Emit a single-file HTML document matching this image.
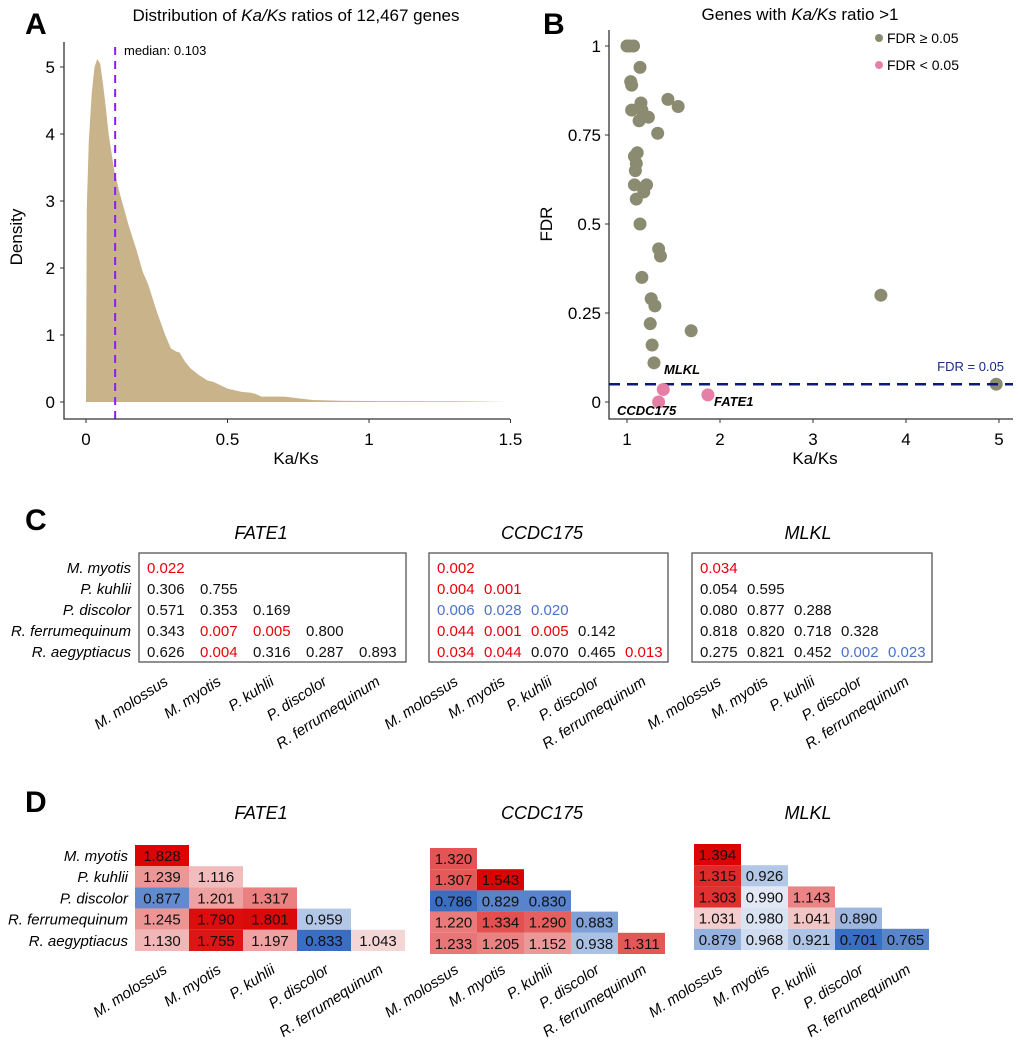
<!DOCTYPE html>
<html><head><meta charset="utf-8"><style>
body{margin:0;background:#fff;}
svg{display:block;font-family:"Liberation Sans",Arial,sans-serif;}
</style></head><body>
<svg id="fig" width="1020" height="1051" viewBox="0 0 1020 1051" xmlns="http://www.w3.org/2000/svg">
<g id="pA"></g>
<g id="pB"></g>
<g id="pC"></g>
<g id="pD"></g>
</svg>
<script>
// ---- Panel A data ----
const densX = [0,0.003,0.01,0.02,0.03,0.04,0.05,0.06,0.07,0.08,0.1,0.12,0.15,0.18,0.2,0.22,0.25,0.28,0.3,0.32,0.33,0.35,0.37,0.4,0.43,0.45,0.5,0.55,0.58,0.6,0.62,0.7,0.72,0.8,0.9,1.0,1.2,1.3,1.5];
const densY = [0,2.9,3.9,4.6,5.0,5.12,5.05,4.75,4.4,4.0,3.45,3.1,2.65,2.25,1.95,1.75,1.35,1.0,0.8,0.75,0.74,0.6,0.5,0.4,0.32,0.3,0.2,0.15,0.14,0.12,0.08,0.08,0.07,0.03,0.02,0.015,0.01,0.01,0];
const aXTicks = [0,0.5,1,1.5];
const aYTicks = [0,1,2,3,4,5];
const medianVal = 0.103;
// ---- Panel B data ----
const kaks = [1.0,1.03,1.07,1.14,1.04,1.05,1.05,1.15,1.16,1.23,1.13,1.44,1.55,1.33,1.11,1.08,1.1,1.09,1.08,1.21,1.18,1.1,1.14,1.34,1.36,1.16,1.26,1.3,1.25,1.69,1.27,1.29,3.73,4.97];
const fdr  = [1.0,1.0,1.0,0.94,0.90,0.89,0.82,0.84,0.82,0.80,0.79,0.85,0.83,0.755,0.70,0.69,0.67,0.65,0.61,0.61,0.59,0.57,0.50,0.43,0.41,0.35,0.29,0.27,0.22,0.20,0.16,0.11,0.30,0.05];
const sigNames = ["MLKL","CCDC175","FATE1"];
const sigKaks = [1.39,1.34,1.87];
const sigFdr = [0.035,0.0,0.02];
const bXTicks = [1,2,3,4,5];
const bYTicks = [0,0.25,0.5,0.75,1];
const bYTickLabels = ["0","0.25","0.5","0.75","1"];
const fdrThresh = 0.05;
// ---- Panels C/D data ----
const rowSpecies = ["M. myotis","P. kuhlii","P. discolor","R. ferrumequinum","R. aegyptiacus"];
const colSpecies = ["M. molossus","M. myotis","P. kuhlii","P. discolor","R. ferrumequinum"];
const genes = ["FATE1","CCDC175","MLKL"];
const pFATE1 = [["0.022"],["0.306","0.755"],["0.571","0.353","0.169"],["0.343","0.007","0.005","0.800"],["0.626","0.004","0.316","0.287","0.893"]];
const sFATE1 = [["r"],["k","k"],["k","k","k"],["k","r","r","k"],["k","r","k","k","k"]];
const pCCDC175 = [["0.002"],["0.004","0.001"],["0.006","0.028","0.020"],["0.044","0.001","0.005","0.142"],["0.034","0.044","0.070","0.465","0.013"]];
const sCCDC175 = [["r"],["r","r"],["b","b","b"],["r","r","r","k"],["r","r","k","k","r"]];
const pMLKL = [["0.034"],["0.054","0.595"],["0.080","0.877","0.288"],["0.818","0.820","0.718","0.328"],["0.275","0.821","0.452","0.002","0.023"]];
const sMLKL = [["r"],["k","k"],["k","k","k"],["k","k","k","k"],["k","k","k","b","b"]];
const rFATE1 = [[1.828],[1.239,1.116],[0.877,1.201,1.317],[1.245,1.790,1.801,0.959],[1.130,1.755,1.197,0.833,1.043]];
const rCCDC175 = [[1.320],[1.307,1.543],[0.786,0.829,0.830],[1.220,1.334,1.290,0.883],[1.233,1.205,1.152,0.938,1.311]];
const rMLKL = [[1.394],[1.315,0.926],[1.303,0.990,1.143],[1.031,0.980,1.041,0.890],[0.879,0.968,0.921,0.701,0.765]];

const NS="http://www.w3.org/2000/svg";
function mk(parent,tag,attrs,text){const e=document.createElementNS(NS,tag);for(const k in attrs)e.setAttribute(k,attrs[k]);if(text!==undefined)e.textContent=text;parent.appendChild(e);return e;}

// ===== Panel A =====
(function(){
const g=document.getElementById('pA');
const xs=v=>86+283*v, ys=v=>402-67*v;
let t=mk(g,'text',{x:25,y:34,'font-size':30,'font-weight':'bold'},'A');


t=mk(g,'text',{x:296,y:21,'font-size':17,'text-anchor':'middle'});


t.innerHTML='Distribution of <tspan font-style="italic">Ka/Ks</tspan> ratios of 12,467 genes';
let d='M'+xs(densX[0])+','+ys(0);
for(let i=0;i<densX.length;i++) d+=' L'+xs(densX[i]).toFixed(1)+','+ys(densY[i]).toFixed(1);
d+=' L'+xs(densX[densX.length-1])+','+ys(0)+' Z';
let p=mk(g,'path',{d:d,fill:'#c8b38b'});


let l=mk(g,'line',{x1:xs(medianVal),x2:xs(medianVal),y1:47,y2:419,stroke:'#8a1ff0','stroke-width':2,'stroke-dasharray':'8,6'});


t=mk(g,'text',{x:124,y:55,'font-size':13},'median: 0.103');


let ax=mk(g,'path',{d:'M64,42 L64,419 L510,419',fill:'none',stroke:'#333','stroke-width':1.3});


aXTicks.forEach(v=>{mk(g,'line',{x1:xs(v),x2:xs(v),y1:419,y2:423,stroke:'#333'});
 const tt=mk(g,'text',{x:xs(v),y:445,'font-size':17,'text-anchor':'middle'},String(v));
 
 });
aYTicks.forEach(v=>{mk(g,'line',{x1:60,x2:64,y1:ys(v),y2:ys(v),stroke:'#333'});
 const tt=mk(g,'text',{x:55,y:ys(v)+6,'font-size':17,'text-anchor':'end'},String(v));
 
 });
t=mk(g,'text',{x:296,y:464,'font-size':17,'text-anchor':'middle'},'Ka/Ks');


t=mk(g,'text',{x:22,y:237,'font-size':17,'text-anchor':'middle',transform:'rotate(-90 22 237)'},'Density');


})();

// ===== Panel B =====
(function(){
const g=document.getElementById('pB');
const xs=v=>627+93*(v-1), ys=v=>402-356*v;
let t=mk(g,'text',{x:543,y:34,'font-size':30,'font-weight':'bold'},'B');


t=mk(g,'text',{x:800,y:20,'font-size':17,'text-anchor':'middle'});


t.innerHTML='Genes with <tspan font-style="italic">Ka/Ks</tspan> ratio &gt;1';
let ax=mk(g,'path',{d:'M609,30 L609,419 L1013,419',fill:'none',stroke:'#333','stroke-width':1.3});


bXTicks.forEach(v=>{mk(g,'line',{x1:xs(v),x2:xs(v),y1:419,y2:423,stroke:'#333'});
 const tt=mk(g,'text',{x:xs(v),y:445,'font-size':17,'text-anchor':'middle'},String(v));
 
 });
bYTicks.forEach((v,i)=>{mk(g,'line',{x1:605,x2:609,y1:ys(v),y2:ys(v),stroke:'#333'});
 const tt=mk(g,'text',{x:601,y:ys(v)+6,'font-size':17,'text-anchor':'end'},bYTickLabels[i]);
 
 });
t=mk(g,'text',{x:815,y:464,'font-size':17,'text-anchor':'middle'},'Ka/Ks');


t=mk(g,'text',{x:552,y:224,'font-size':17,'text-anchor':'middle',transform:'rotate(-90 552 224)'},'FDR');


kaks.forEach((k,i)=>{const c=mk(g,'circle',{cx:xs(k),cy:ys(fdr[i]),r:6.5,fill:'#8a8b70'});
 
 });
let l=mk(g,'line',{x1:609,x2:1013,y1:ys(fdrThresh),y2:ys(fdrThresh),stroke:'#0d1a7a','stroke-width':2.5,'stroke-dasharray':'11,7'});


t=mk(g,'text',{x:1004,y:371,'font-size':13,'text-anchor':'end',fill:'#1c2a80'},'FDR = 0.05');


const lblPos=[[664,374,'start'],[617,415,'start'],[714,406,'start']];
sigKaks.forEach((k,i)=>{const c=mk(g,'circle',{cx:xs(k),cy:ys(sigFdr[i]),r:6.5,fill:'#e67fa6'});
 
 
 const tt=mk(g,'text',{x:lblPos[i][0],y:lblPos[i][1],'font-size':13,'font-weight':'bold','font-style':'italic'},sigNames[i]);
 
 });
let c=mk(g,'circle',{cx:879,cy:38,r:4,fill:'#8a8b70'});


t=mk(g,'text',{x:887,y:43,'font-size':14},'FDR ≥ 0.05');


c=mk(g,'circle',{cx:879,cy:65,r:4,fill:'#e67fa6'});


t=mk(g,'text',{x:887,y:70,'font-size':14},'FDR < 0.05');


})();

// ===== Panel C =====
(function(){
const g=document.getElementById('pC');
let t=mk(g,'text',{x:25,y:530,'font-size':30,'font-weight':'bold'},'C');


const pv=[pFATE1,pCCDC175,pMLKL], sv=[sFATE1,sCCDC175,sMLKL];
const boxL=[139,429,692], boxR=[406,668,932], colX0=[147,437,700], colW=[53,47,47], titleX=[261,542,808];
const colors={r:'#e8000b',b:'#4a72c8',k:'#111'};
rowSpecies.forEach((s,r)=>{const tt=mk(g,'text',{x:131,y:573+21*r,'font-size':15,'font-style':'italic','text-anchor':'end'},s);
 
 });
genes.forEach((gn,gi)=>{
 const tt=mk(g,'text',{x:titleX[gi],y:539,'font-size':18,'font-style':'italic','text-anchor':'middle'},gn);
 
 
 const b=mk(g,'rect',{x:boxL[gi],y:553,width:boxR[gi]-boxL[gi],height:109,fill:'none',stroke:'#555','stroke-width':1.3});
 
 
 pv[gi].forEach((row,r)=>row.forEach((v,c)=>{
  const e=mk(g,'text',{x:colX0[gi]+colW[gi]*c,y:573+21*r,'font-size':15,fill:colors[sv[gi][r][c]]},v);
  
  }));
 colSpecies.forEach((s,c)=>{const cx=colX0[gi]+colW[gi]*c+22;
  const e=mk(g,'text',{x:cx,y:684,'font-size':15,'font-style':'italic','text-anchor':'end',transform:'rotate(-33 '+cx+' 684)'},s);
  
  });
});
})();

// ===== Panel D =====
(function(){
const g=document.getElementById('pD');
let t=mk(g,'text',{x:25,y:812,'font-size':30,'font-weight':'bold'},'D');


const rv=[rFATE1,rCCDC175,rMLKL];
const x0=[135,430,694], w=[54,47,47], y0=[845,848,844], h=21.2, titleX=[261,542,808];
function col(v,mx,mn){
 if(v>=1){const t=Math.pow(Math.min(1,(v-1)/(mx-1)),0.8);return 'rgb('+Math.round(248-30*t)+','+Math.round(236-232*t)+','+Math.round(236-232*t)+')';}
 const t=Math.pow(Math.min(1,(1-v)/(1-mn)),0.8);return 'rgb('+Math.round(238-180*t)+','+Math.round(242-132*t)+','+Math.round(248-54*t)+')';
}
rowSpecies.forEach((s,r)=>{const tt=mk(g,'text',{x:128,y:y0[0]+h*r+16,'font-size':15,'font-style':'italic','text-anchor':'end'},s);
 
 });
genes.forEach((gn,gi)=>{
 const tt=mk(g,'text',{x:titleX[gi],y:819,'font-size':18,'font-style':'italic','text-anchor':'middle'},gn);
 
 
 const flat=rv[gi].flat(), mx=Math.max(...flat), mn=Math.min(...flat);
 rv[gi].forEach((row,r)=>row.forEach((v,c)=>{
  const rc=mk(g,'rect',{x:x0[gi]+w[gi]*c,y:y0[gi]+h*r,width:w[gi],height:h,fill:col(v,mx,mn)});
  
  
  const e=mk(g,'text',{x:x0[gi]+w[gi]*c+w[gi]/2,y:y0[gi]+h*r+16,'font-size':15,'text-anchor':'middle',fill:'#111'},v.toFixed(3));
  
  }));
 colSpecies.forEach((s,c)=>{const cx=x0[gi]+w[gi]*c+w[gi]/2+6;
  const e=mk(g,'text',{x:cx,y:972,'font-size':15,'font-style':'italic','text-anchor':'end',transform:'rotate(-33 '+cx+' 972)'},s);
  
  });
});
})();
</script>
</body></html>
